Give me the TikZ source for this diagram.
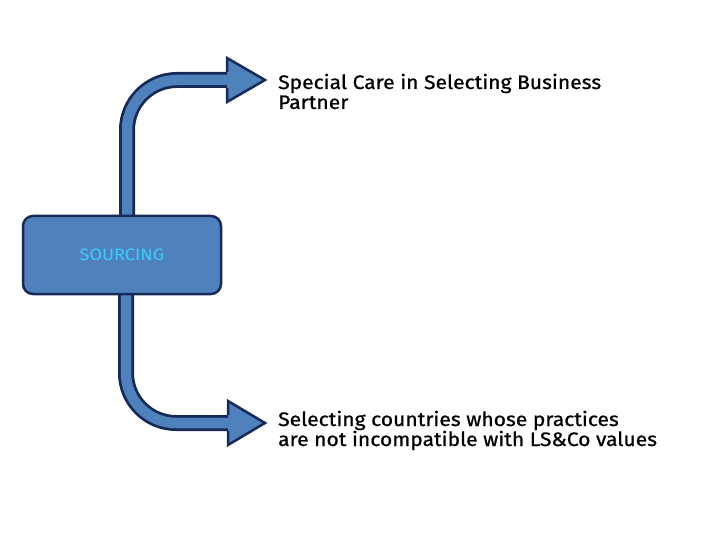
\documentclass[tikz,border=0pt]{standalone}
\usepackage{fontspec}
\setmainfont[FakeStretch=1.1]{Fira Sans}
\newfontfamily\labelfont[FakeStretch=1.08,FakeBold=0.8]{Fira Sans}
\definecolor{boxblue}{RGB}{79,129,189}
\definecolor{navy}{RGB}{22,42,88}
\definecolor{cyantext}{RGB}{60,205,250}
\begin{document}
\begin{tikzpicture}[x=1pt,y=-1pt,
  shaftout/.style={draw=navy,line width=16pt,rounded corners=50pt},
  shaftin/.style={draw=boxblue,line width=10.5pt,rounded corners=50pt},
  headfill/.style={fill=boxblue},
  headline/.style={draw=navy,line width=2.5pt,line join=miter},
  label/.style={anchor=base west,inner sep=0pt,align=left,font=\labelfont\fontsize{19.5}{20}\selectfont}]
\useasboundingbox (0,0) rectangle (720,540);
% coordinates
\coordinate (us) at (127,215);
\coordinate (uc) at (127,80);
\coordinate (ue) at (228,80);
\coordinate (ls) at (126,295);
\coordinate (lc) at (126,423);
\coordinate (le) at (229,423);
% upper arrow shaft
\draw[shaftout] (us) -- (uc) -- (ue);
\draw[shaftin] (us) -- (uc) -- (ue);
% upper head
\fill[headfill] (227,58) -- (265,80) -- (227,102) -- cycle;
\draw[headline] (227,72) -- (227,58) -- (265,80) -- (227,102) -- (227,88);
% lower arrow shaft
\draw[shaftout] (ls) -- (lc) -- (le);
\draw[shaftin] (ls) -- (lc) -- (le);
\fill[headfill] (228,401) -- (265,423) -- (228,445) -- cycle;
\draw[headline] (228,415) -- (228,401) -- (265,423) -- (228,445) -- (228,431);
% box
\node[draw=navy,fill=boxblue,line width=2.5pt,rounded corners=10pt,minimum width=198pt,minimum height=78pt,inner sep=0pt,
  text=cyantext,font=\fontsize{16.5}{18}\selectfont] (src) at (122,255) {SOURCING};
% texts
\node[label] (t1) at (278,109) {Special Care in Selecting Business\\Partner};
\node[label] (t2) at (278,446) {Selecting countries whose practices\\are not incompatible with LS\&Co values};
\end{tikzpicture}
\end{document}
